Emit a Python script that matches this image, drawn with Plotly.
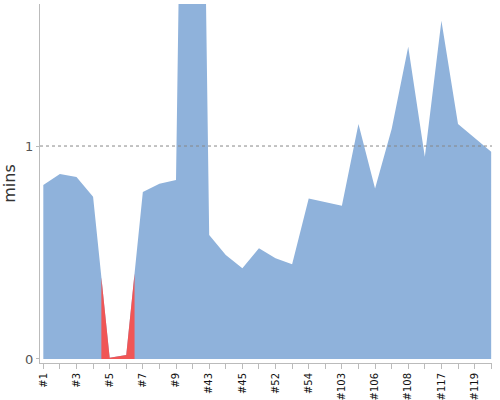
import plotly.graph_objects as go

builds = ["#1", "#2", "#3", "#4", "#5", "#6", "#7", "#8", "#9", "#42",
          "#43", "#44", "#45", "#51", "#52", "#53", "#54", "#55", "#103", "#105",
          "#106", "#107", "#108", "#116", "#117", "#118", "#119", "#120"]
minutes = [0.817, 0.869, 0.854, 0.762, 0.006, 0.019, 0.784, 0.823, 0.840, 6.3,
           0.582, 0.488, 0.426, 0.520, 0.473, 0.445, 0.754, 0.738, 0.720, 1.103,
           0.801, 1.08, 1.466, 0.95, 1.588, 1.103, 1.036, 0.973]
status = ["ok"] * len(builds)
status[4] = "failed"
status[5] = "failed"

BLUE = "#8fb2db"
RED = "#f05656"

idx = list(range(len(builds)))
fig = go.Figure()
fig.add_trace(go.Scatter(x=idx, y=minutes, mode="lines", fill="tozeroy",
                         fillcolor=BLUE, line=dict(width=0, color=BLUE),
                         hoverinfo="skip", showlegend=False))

# red segments for failed builds, from mid-point to mid-point
def interp(xv):
    i0 = int(xv)
    if i0 >= len(minutes) - 1:
        return minutes[-1]
    t = xv - i0
    return minutes[i0] * (1 - t) + minutes[i0 + 1] * t

i = 0
while i < len(builds):
    if status[i] == "failed":
        j = i
        while j + 1 < len(builds) and status[j + 1] == "failed":
            j += 1
        xs = [max(i - 0.5, 0)] + list(range(i, j + 1)) + [min(j + 0.5, len(builds) - 1)]
        ys = [interp(x) for x in xs]
        fig.add_trace(go.Scatter(x=xs, y=ys, mode="lines", fill="tozeroy",
                                 fillcolor=RED, line=dict(width=0, color=RED),
                                 hoverinfo="skip", showlegend=False))
        i = j + 1
    else:
        i += 1

ticktext = [b if k % 2 == 0 else "" for k, b in enumerate(builds)]

fig.add_shape(type="line", xref="paper", x0=0, x1=1, yref="y", y0=1, y1=1,
              line=dict(color="#888888", width=1, dash="dot"), layer="above")

fig.update_layout(
    width=500, height=400,
    margin=dict(l=40, r=8, t=4, b=37),
    paper_bgcolor="white", plot_bgcolor="white",
    font=dict(family="DejaVu Sans", color="#333333"),
    xaxis=dict(range=[-0.2, 27.05], tickmode="array", tickvals=idx, ticktext=ticktext,
               tickangle=-90, tickfont=dict(size=10, color="#111111"),
               showgrid=False, zeroline=False, showline=True, linecolor="#bbbbbb",
               ticks="outside", ticklen=5, tickcolor="#bbbbbb", automargin=False),
    yaxis=dict(range=[-0.019, 1.667], tickmode="array", tickvals=[0, 1], ticktext=["0", "1"],
               tickfont=dict(size=13, color="#555555"), showgrid=False, zeroline=False,
               showline=True, linecolor="#bbbbbb", ticks="outside", ticklen=3,
               tickcolor="#bbbbbb", automargin=False,
               title=dict(text="mins", font=dict(size=16, color="#333333"), standoff=6)),
)

fig.write_html("out.html")
